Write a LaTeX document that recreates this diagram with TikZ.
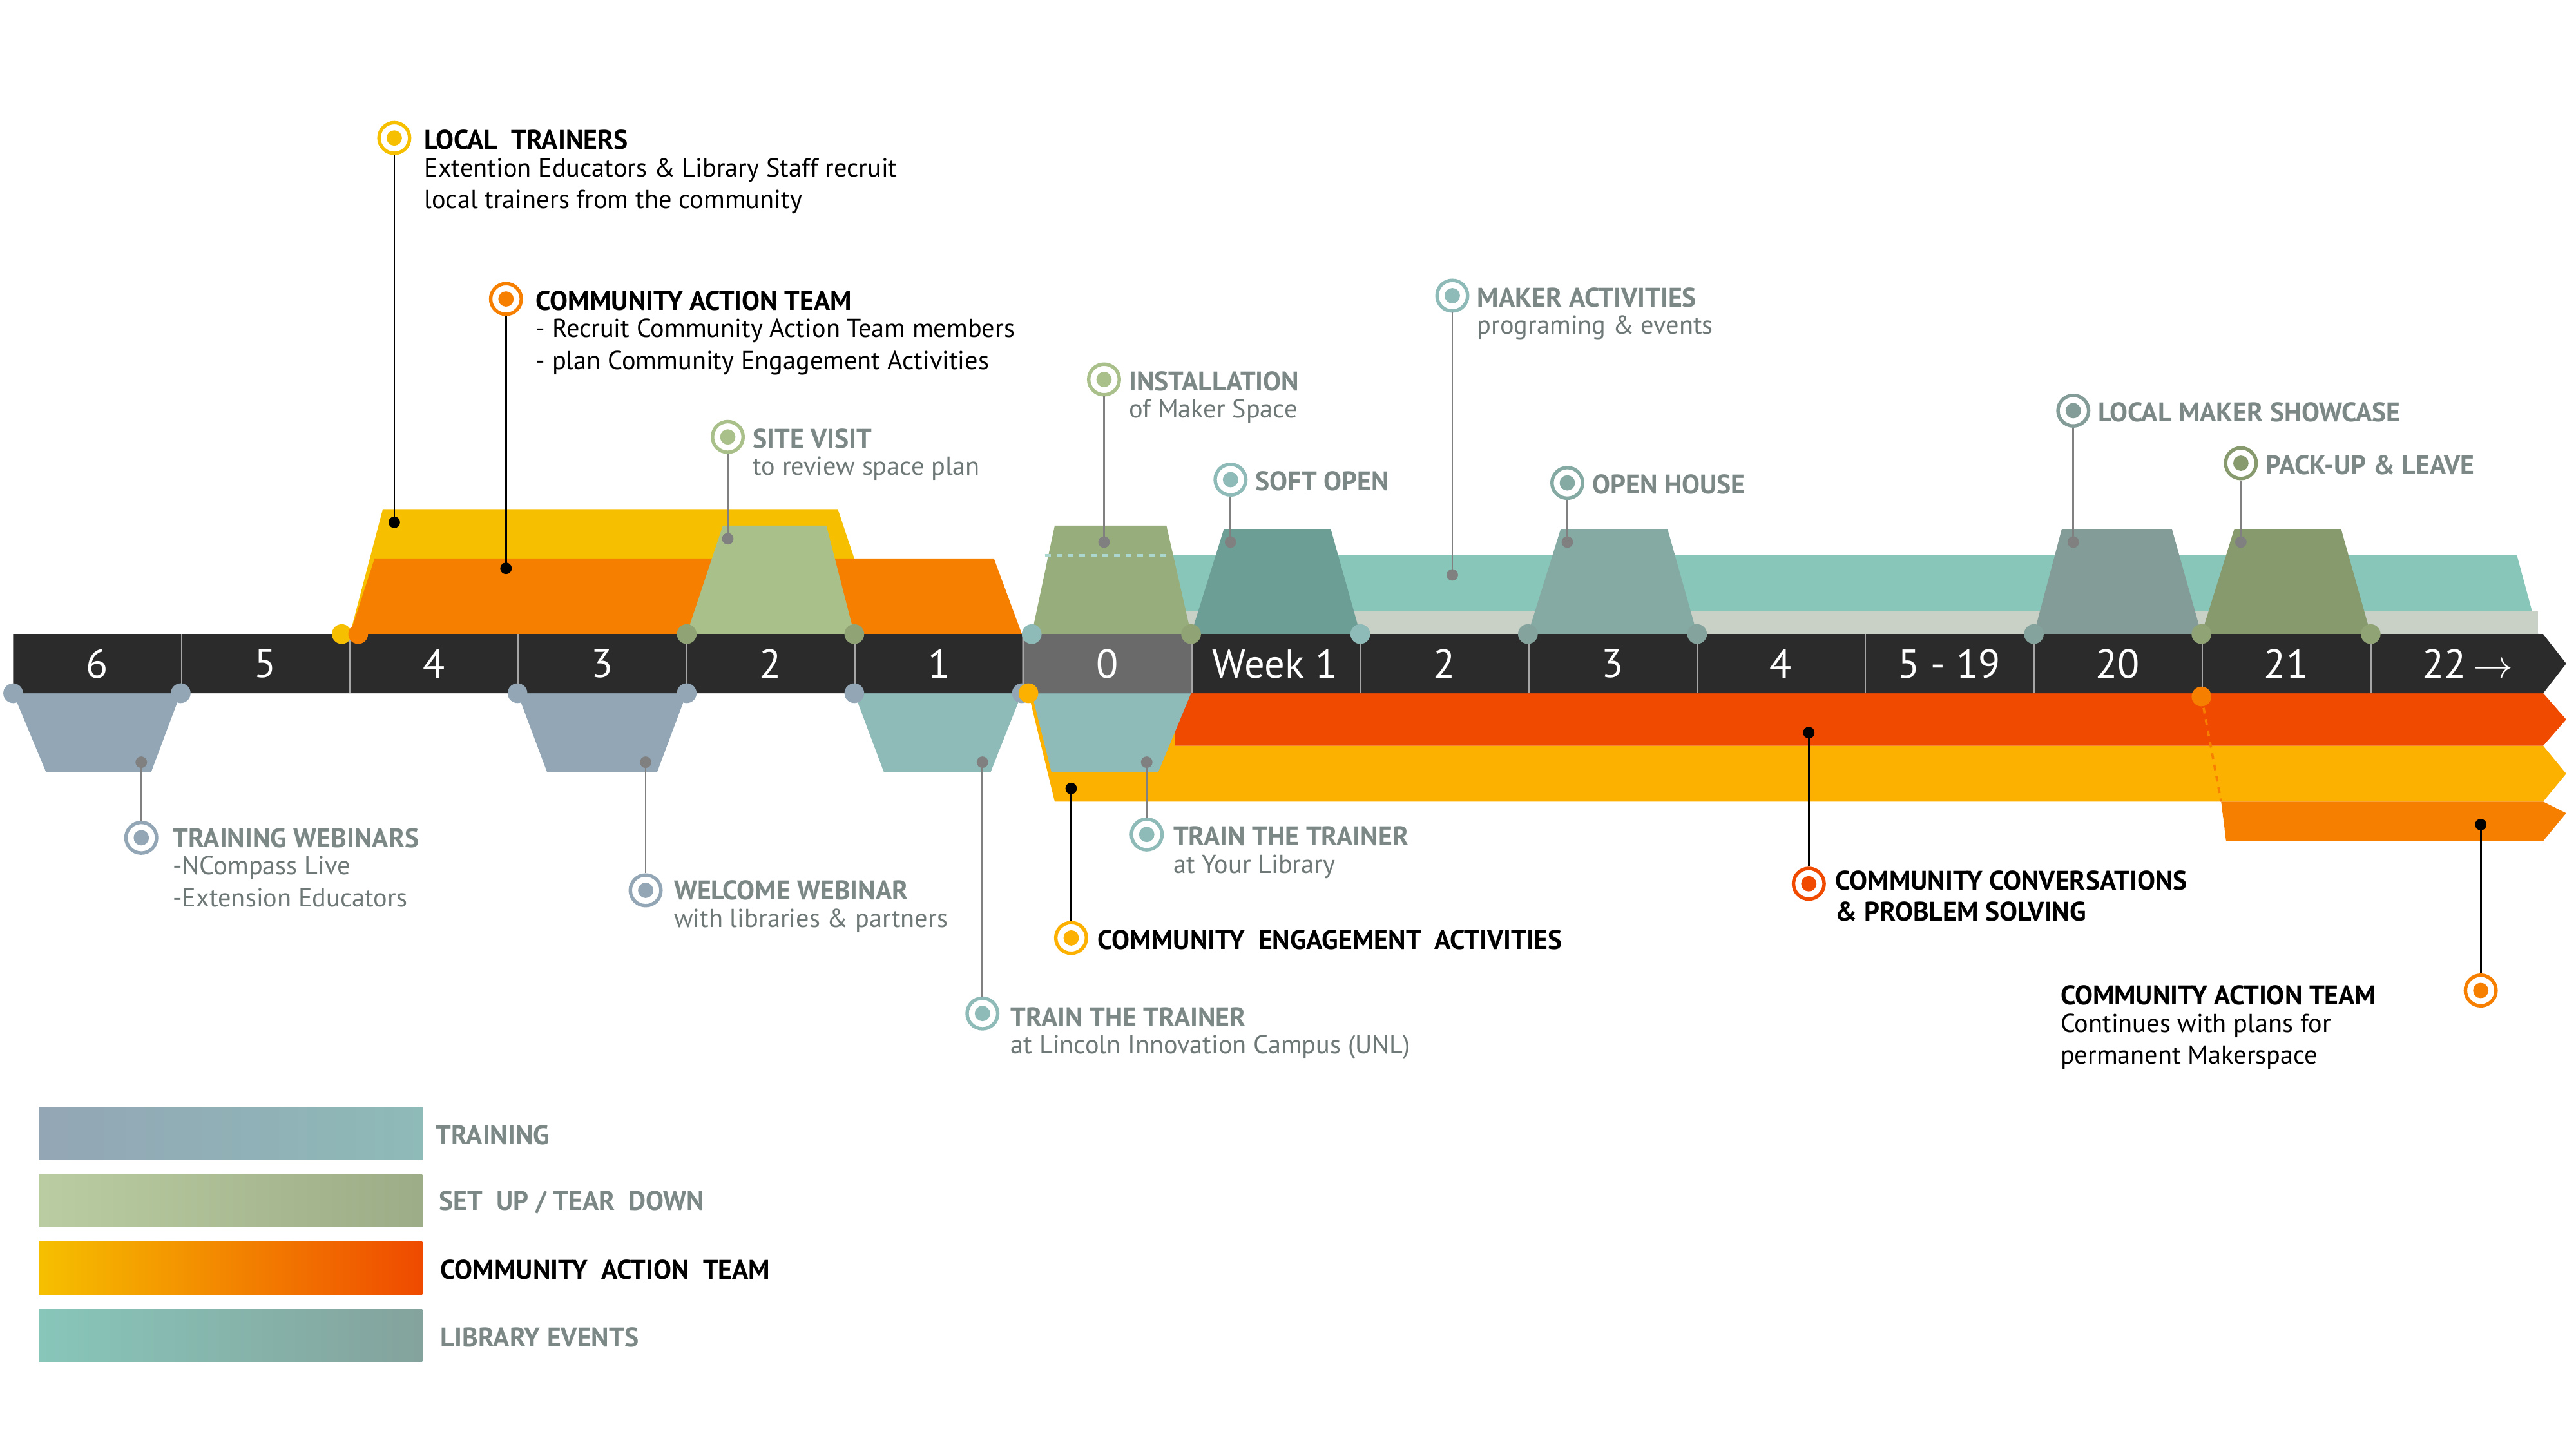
\documentclass[tikz,border=0pt]{standalone}
\usepackage{fontspec}
\setmainfont{PT Sans}
\definecolor{cbar}{HTML}{2B2B2B}
\definecolor{czero}{HTML}{6A6A6A}
\definecolor{cyel}{HTML}{F6C000}
\definecolor{corg}{HTML}{F77F00}
\definecolor{cred}{HTML}{EF4A00}
\definecolor{camb}{HTML}{FCB000}
\definecolor{cgrn}{HTML}{A9C08A}
\definecolor{cteal}{HTML}{88C6BA}
\definecolor{ctrain}{HTML}{93A6B5}
\definecolor{cttl}{HTML}{8EBAB8}
\definecolor{cgray}{HTML}{7B8886}
\definecolor{csub}{HTML}{6E7876}
\definecolor{cstrip}{HTML}{C9D0C6}
\tikzset{
  ring/.style={circle, draw=#1, line width=1.8pt, fill=white, minimum size=0.56cm, inner sep=0pt,
    path picture={\fill[#1] (path picture bounding box.center) circle (0.14cm);}},
  lead/.style={draw=#1, line width=0.9pt},
  bdot/.style={circle, fill=#1, minimum size=0.36cm, inner sep=0pt},
  title/.style={anchor=west, font=\fontsize{14}{16}\selectfont\bfseries, text=cgray, inner sep=0pt},
  sub/.style={anchor=north west, font=\fontsize{13.5}{16.5}\selectfont, text=csub, inner sep=0pt, align=left},
  week/.style={font=\fontsize{21}{24}\selectfont, text=white},
}
\begin{document}
\begin{tikzpicture}[x=0.03cm, y=-0.03cm]
   \useasboundingbox (0,0) rectangle (1568,874);

   % Bands above the bar
   \fill[cyel] (213,386) -- (233,310) -- (510,310) -- (520,340) -- (520,386) -- cycle;
   \fill[corg] (213,386) -- (228,340) -- (605,340) -- (622,386) -- cycle;
   \fill[cteal] (630,386) -- (638,338) -- (1532,338) -- (1545,386) -- cycle;
   \fill[cstrip] (632,372) rectangle (1545,386);
   \fill[cgrn] (418,386) -- (440,320) -- (503,320) -- (520,386) -- cycle;
   \fill[cgrn!90!black] (628,386) -- (642,320) -- (710,320) -- (725,386) -- cycle;
   \draw[cteal!70!white, dashed, line width=1.5pt] (636,338) -- (712,338);
   \fill[cteal!80!black] (725,386) -- (745,322) -- (810,322) -- (828,386) -- cycle;
   \fill[cteal!60!gray] (930,386) -- (950,322) -- (1015,322) -- (1033,386) -- cycle;
   \fill[cteal!40!gray] (1238,386) -- (1255,322) -- (1322,322) -- (1340,386) -- cycle;
   \fill[cgrn!80!black] (1340,386) -- (1360,322) -- (1425,322) -- (1443,386) -- cycle;

   % Bands below the bar
   \fill[camb] (626,422) -- (642,488) -- (1548,488) -- (1562,471) -- (1548,454) -- (715,454) -- (715,422) -- cycle;
   \fill[cred] (715,422) -- (1548,422) -- (1562,438) -- (1548,454) -- (715,454) -- cycle;
   \fill[corg] (1352,488) -- (1355,512) -- (1548,512) -- (1562,495) -- (1548,488) -- cycle;
   \draw[corg, dashed, line width=1.2pt] (1340,424) -- (1352,488);
   \fill[ctrain] (8,422) -- (28,470) -- (92,470) -- (110,422) -- cycle;
   \fill[ctrain] (315,422) -- (333,470) -- (400,470) -- (418,422) -- cycle;
   \fill[cttl] (520,422) -- (538,470) -- (603,470) -- (622,422) -- cycle;
   \fill[cttl] (628,422) -- (640,470) -- (705,470) -- (725,422) -- cycle;

   % Timeline bar
   \fill[cbar] (8,386) -- (1548,386) -- (1562,404) -- (1548,422) -- (8,422) -- cycle;
   \fill[czero] (622,386) rectangle (725,422);
   \foreach \i in {1,...,14}
      \draw[gray!70, line width=0.8pt] (8+102.5*\i,386) -- (8+102.5*\i,422);
   \foreach \i/\t in {0/6,1/5,2/4,3/3,4/2,5/1,6/0,8/2,9/3,10/4,11/5 - 19,12/20,13/21}
      \node[week] (w\i) at (8+102.5*\i+51,404) {\t};
   \node[week] (w7) at (776,404) {Week 1};
   \node[week] (w14) at (1502,404) {22\,$\rightarrow$};

   % Dots on the bar
   \foreach \x in {8,110,315,418,520,622}
      \node[bdot=ctrain] at (\x,422) {};
   \foreach \x in {418,520,725,1340,1443}
      \node[bdot=cgrn!85!black] at (\x,386) {};
   \foreach \x in {628,828}
      \node[bdot=cttl] at (\x,386) {};
   \foreach \x in {930,1033,1238}
      \node[bdot=cteal!50!gray] at (\x,386) {};
   \node[bdot=cyel] at (208,386) {};
   \node[bdot=corg] at (218,386) {};
   \node[bdot=camb] at (626,422) {};
   \node[bdot=corg] at (1340,424) {};

   % Callouts above
   \node[ring=cyel] (lt) at (240,84) {};
   \coordinate (ltEnd) at (240,318);
   \draw[lead=black] (lt) -- (ltEnd); \fill (ltEnd) circle (3.5);
   \node[title, text=black] at (258,85) {LOCAL\ \ TRAINERS};
   \node[sub, text=black] at (258,96) {Extention Educators \& Library Staff recruit\\local trainers from the community};

   \node[ring=corg] (cat) at (308,182) {};
   \coordinate (catEnd) at (308,346);
   \draw[lead=black] (cat) -- (catEnd); \fill (catEnd) circle (3.5);
   \node[title, text=black] at (326,183) {COMMUNITY ACTION TEAM};
   \node[sub, text=black] at (326,194) {- Recruit Community Action Team members\\- plan Community Engagement Activities};

   \node[ring=cgrn] (sv) at (443,266) {};
   \coordinate (svEnd) at (443,328);
   \draw[lead=gray] (sv) -- (svEnd); \fill[gray] (svEnd) circle (3.5);
   \node[title] at (458,267) {SITE VISIT};
   \node[sub] at (458,278) {to review space plan};

   \node[ring=cgrn] (in) at (672,231) {};
   \coordinate (inEnd) at (672,330);
   \draw[lead=gray] (in) -- (inEnd); \fill[gray] (inEnd) circle (3.5);
   \node[title] at (687,232) {INSTALLATION};
   \node[sub] at (687,243) {of Maker Space};

   \node[ring=cttl] (ma) at (884,180) {};
   \coordinate (maEnd) at (884,350);
   \draw[lead=gray] (ma) -- (maEnd); \fill[gray] (maEnd) circle (3.5);
   \node[title] at (899,181) {MAKER ACTIVITIES};
   \node[sub] at (899,192) {programing \& events};

   \node[ring=cttl] (so) at (749,292) {};
   \coordinate (soEnd) at (749,330);
   \draw[lead=gray] (so) -- (soEnd); \fill[gray] (soEnd) circle (3.5);
   \node[title] at (764,293) {SOFT OPEN};

   \node[ring=cteal!60!gray] (oh) at (954,294) {};
   \coordinate (ohEnd) at (954,330);
   \draw[lead=gray] (oh) -- (ohEnd); \fill[gray] (ohEnd) circle (3.5);
   \node[title] at (969,295) {OPEN HOUSE};

   \node[ring=cteal!40!gray] (ls) at (1262,250) {};
   \coordinate (lsEnd) at (1262,330);
   \draw[lead=gray] (ls) -- (lsEnd); \fill[gray] (lsEnd) circle (3.5);
   \node[title] at (1277,251) {LOCAL MAKER SHOWCASE};

   \node[ring=cgrn!80!black] (pl) at (1364,282) {};
   \coordinate (plEnd) at (1364,330);
   \draw[lead=gray] (pl) -- (plEnd); \fill[gray] (plEnd) circle (3.5);
   \node[title] at (1379,283) {PACK-UP \& LEAVE};

   % Callouts below
   \node[ring=ctrain] (tw) at (86,510) {};
   \coordinate (twEnd) at (86,464);
   \draw[lead=gray] (tw) -- (twEnd); \fill[gray] (twEnd) circle (3.5);
   \node[title] at (105,510) {TRAINING WEBINARS};
   \node[sub] at (105,521) {-NCompass Live\\-Extension Educators};

   \node[ring=ctrain] (ww) at (393,542) {};
   \coordinate (wwEnd) at (393,464);
   \draw[lead=gray] (ww) -- (wwEnd); \fill[gray] (wwEnd) circle (3.5);
   \node[title] at (410,542) {WELCOME WEBINAR};
   \node[sub] at (410,553) {with libraries \& partners};

   \node[ring=cttl] (tl) at (598,617) {};
   \coordinate (tlEnd) at (598,464);
   \draw[lead=gray] (tl) -- (tlEnd); \fill[gray] (tlEnd) circle (3.5);
   \node[title] at (615,619) {TRAIN THE TRAINER};
   \node[sub] at (615,630) {at Lincoln Innovation Campus (UNL)};

   \node[ring=camb] (ce) at (652,571) {};
   \coordinate (ceEnd) at (652,480);
   \draw[lead=black] (ce) -- (ceEnd); \fill (ceEnd) circle (3.5);
   \node[title, text=black] at (668,572) {COMMUNITY\ \ ENGAGEMENT\ \ ACTIVITIES};

   \node[ring=cttl] (tt) at (698,508) {};
   \coordinate (ttEnd) at (698,464);
   \draw[lead=gray] (tt) -- (ttEnd); \fill[gray] (ttEnd) circle (3.5);
   \node[title] at (714,509) {TRAIN THE TRAINER};
   \node[sub] at (714,520) {at Your Library};

   \node[ring=cred] (cc) at (1101,538) {};
   \coordinate (ccEnd) at (1101,446);
   \draw[lead=black] (cc) -- (ccEnd); \fill (ccEnd) circle (3.5);
   \node[title, text=black, align=left, anchor=north west] at (1117,530) {COMMUNITY CONVERSATIONS\\\& PROBLEM SOLVING};

   \node[ring=corg] (ct) at (1510,603) {};
   \coordinate (ctEnd) at (1510,502);
   \draw[lead=black] (ct) -- (ctEnd); \fill (ctEnd) circle (3.5);
   \node[title, text=black] at (1254,606) {COMMUNITY ACTION TEAM};
   \node[sub, text=black] at (1254,617) {Continues with plans for\\permanent Makerspace};

   % Legend
   \shade[left color=ctrain, right color=cttl] (24,674) rectangle (257,706);
   \shade[left color=cgrn!80!white, right color=cgrn!70!gray] (24,715) rectangle (257,747);
   \shade[left color=cyel, right color=cred] (24,756) rectangle (257,788);
   \shade[left color=cteal, right color=cteal!50!gray] (24,797) rectangle (257,829);
   \node[title] at (265,691) {TRAINING};
   \node[title] at (267,732) {SET\ \ UP / TEAR\ \ DOWN};
   \node[title, text=black] at (268,773) {COMMUNITY\ \ ACTION\ \ TEAM};
   \node[title] at (268,814) {LIBRARY EVENTS};
\end{tikzpicture}
\end{document}
